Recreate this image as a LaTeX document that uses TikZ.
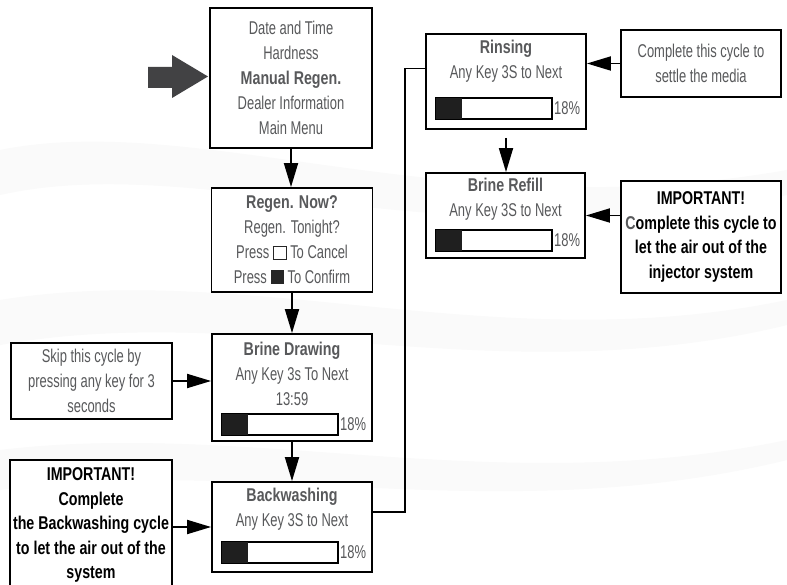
\documentclass[tikz,border=0pt]{standalone}
\usepackage{fontspec}
\setmainfont{Liberation Sans}[FakeStretch=0.7, BoldFeatures={FakeStretch=0.77}]
\usetikzlibrary{arrows.meta}

\definecolor{txtgray}{RGB}{88,89,91}
\definecolor{pointer}{RGB}{66,66,68}
\newcommand{\keyoff}{{\setlength{\fboxsep}{0pt}\setlength{\fboxrule}{0.9pt}\color{black!85}\fbox{\rule{0pt}{12pt}\rule{12pt}{0pt}}}}
\newcommand{\keyon}{{\color{black!85}\rule{13.5pt}{13.5pt}}}

\begin{document}
\begin{tikzpicture}[x=1pt, y=-1pt,
    every node/.style={font=\fontsize{18.5}{25}\selectfont, align=center},
    panel/.style={draw, line width=1.8pt, fill=white, text=txtgray, inner sep=0pt},
    screen/.style={text=txtgray, inner sep=0pt},
    note/.style={draw, line width=1.8pt, fill=white, text=txtgray, inner sep=0pt},
    alert/.style={draw, line width=1.8pt, fill=white, text=black, inner sep=0pt,
        font=\fontsize{18.5}{24.5}\selectfont\bfseries},
    flow/.style={line width=1.8pt, -{Triangle[length=24pt,width=14pt]}},
    link/.style={line width=1.8pt},
    pct/.style={text=txtgray, inner sep=0pt, anchor=west},
    wave/.style={fill=gray!4}]
    \useasboundingbox (0,0) rectangle (787,585);
    \fill[white] (0,0) rectangle (787,585);
    % faint background swooshes
    \fill[wave] (0,150) .. controls (200,110) and (450,230) .. (787,170) -- (787,195) .. controls (450,265) and (200,150) .. (0,195) -- cycle;
    \fill[wave] (0,300) .. controls (250,260) and (500,360) .. (787,300) -- (787,325) .. controls (500,395) and (250,300) .. (0,345) -- cycle;
    \fill[wave] (0,450) .. controls (250,420) and (500,500) .. (787,440) -- (787,460) .. controls (500,530) and (250,455) .. (0,490) -- cycle;

    % left column
    \node[panel, minimum width=162pt, minimum height=140pt] (menu) at (291,78)
        {Date and Time\\Hardness\\\textbf{Manual Regen.}\\Dealer Information\\Main Menu};
    \node[panel, minimum width=161pt, minimum height=104pt] (regen) at (292,240)
        {\textbf{Regen. Now?}\\Regen. Tonight?\\Press \keyoff{} To Cancel\\Press \keyon{} To Confirm};
    \node[panel, minimum width=160pt, minimum height=107pt] (drawing) at (292,387.5) {};
    \node[screen] (drawing-txt) at ([yshift=-41pt]drawing.north)
        {\textbf{Brine Drawing}\\Any Key 3s To Next\\13:59};
    \node[panel, minimum width=160pt, minimum height=90pt] (backwash) at (292,527) {};
    \node[screen] (backwash-txt) at ([yshift=-28pt]backwash.north)
        {\textbf{Backwashing}\\Any Key 3S to Next};

    % right column
    \node[panel, minimum width=160pt, minimum height=95pt] (rinse) at (506,81.5) {};
    \node[screen] (rinse-txt) at ([yshift=-28pt]rinse.north)
        {\textbf{Rinsing}\\Any Key 3S to Next};
    \node[panel, minimum width=159pt, minimum height=85pt] (refill) at (505.5,215.5) {};
    \node[screen] (refill-txt) at ([yshift=-27.5pt]refill.north)
        {\textbf{Brine Refill}\\Any Key 3S to Next};

    % side notes
    \node[note, minimum width=161pt, minimum height=76pt] (skip) at (91.5,381)
        {Skip this cycle by\\pressing any key for 3\\seconds};
    \node[alert, minimum width=162pt, minimum height=130pt] (imp1) at (91,525)
        {IMPORTANT!\\Complete\\the Backwashing cycle\\to let the air out of the\\system};
    \node[note, minimum width=160pt, minimum height=67pt] (settle) at (701,63.5)
        {Complete this cycle to\\settle the media};
    \node[alert, minimum width=160pt, minimum height=112pt] (imp2) at (701,237)
        {IMPORTANT!\\{\color{txtgray}C}omplete this cycle to\\let the air out of the\\injector system};

    % progress bars
    \foreach \bx/\by/\n in {222/414/drawing, 222/542/backwash, 436/98/rinse, 436/230/refill} {
        \draw[line width=1.5pt, fill=white] (\bx,\by) rectangle ++(116,21);
        \fill[black!88] (\bx,\by) rectangle ++(26,21);
        \node[pct] (pct-\n) at (\bx+118,\by+10.5) {18\%};
    }

    % entry pointer
    \fill[pointer] (148,67) -- (172,67) -- (172,55) -- (208,76.5) -- (172,98) -- (172,88) -- (148,88) -- cycle;

    \path[flow]
        (menu.south) edge (menu.south |- regen.north)
        (regen.south) edge (regen.south |- drawing.north)
        (drawing.south) edge (drawing.south |- backwash.north)
        ([yshift=-8pt]rinse.south) edge (rinse.south |- refill.north)
        (skip.east) edge (skip.east -| drawing.west)
        (backwash.west -| imp1.east) edge (backwash.west)
        (settle.west) edge (settle.west -| rinse.east)
        (refill.east -| imp2.west) edge (refill.east);
    \draw[link] ([yshift=15pt]backwash.east) -- ++(32,0) |- ([yshift=13pt]rinse.west);
\end{tikzpicture}
\end{document}
